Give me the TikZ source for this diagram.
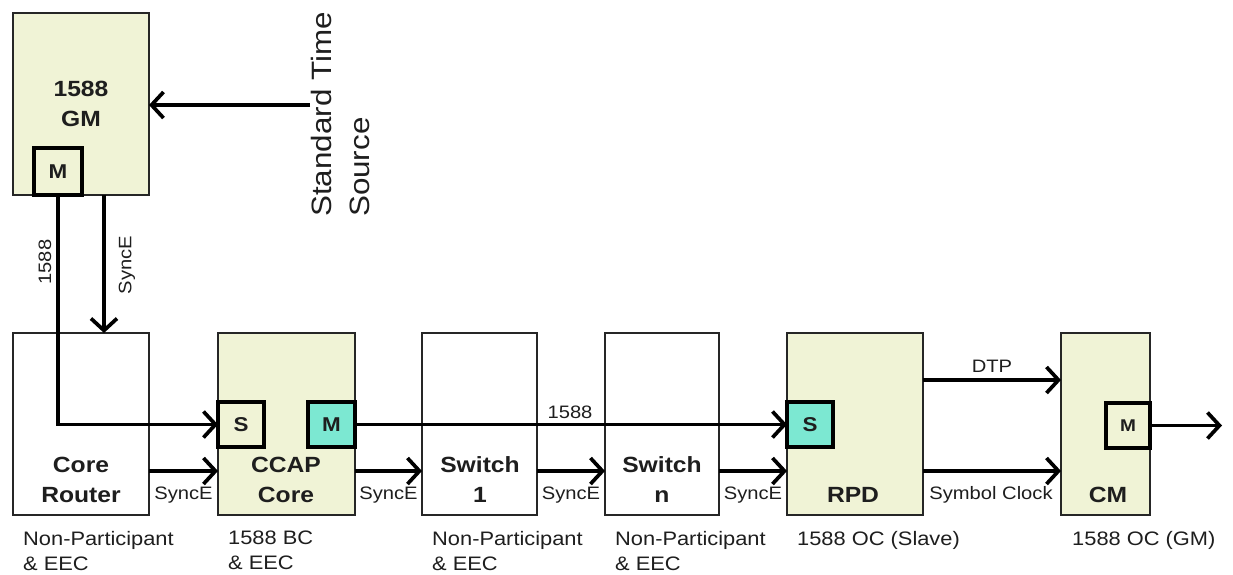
\documentclass[tikz,border=0pt]{standalone}
\usepackage{fontspec}
\setmainfont[FakeStretch=1.12]{Liberation Sans}
\usetikzlibrary{arrows.meta}
\definecolor{ylw}{RGB}{240,243,214}
\definecolor{tealb}{RGB}{124,232,210}
\definecolor{txt}{RGB}{30,30,30}
\tikzset{
  bigbox/.style={draw=black!85, line width=1.9pt, anchor=north west, inner sep=0pt, outer sep=0pt},
  smallbox/.style={draw=black, line width=4pt, anchor=north west, inner sep=0pt, outer sep=0pt,
    text=txt, font=\fontsize{20}{24}\selectfont\bfseries},
  blbl/.style={text=txt, align=center, inner sep=0pt, font=\fontsize{22}{30}\selectfont\bfseries},
  lbl/.style={text=txt, inner sep=0pt, font=\fontsize{18}{22}\selectfont},
  captxt/.style={text=txt, align=left, anchor=north west, inner sep=0pt, font=\fontsize{19.5}{25}\selectfont},
  arr/.style={line width=3.7pt, -{Straight Barb[length=12pt,width=26pt,line width=3.7pt]}}
}
\begin{document}
\begin{tikzpicture}[x=1pt,y=-1pt]
\useasboundingbox[fill=white] (0,0) rectangle (1233,574);
% big boxes
\node[bigbox, fill=ylw, minimum width=136pt, minimum height=182pt] (GM) at (13,13) {};
\node[bigbox, fill=white, minimum width=136pt, minimum height=182pt] (CR) at (13,333) {};
\node[bigbox, fill=ylw, minimum width=137pt, minimum height=182pt] (CCAP) at (218,333) {};
\node[bigbox, fill=white, minimum width=115pt, minimum height=182pt] (SW1) at (422,333) {};
\node[bigbox, fill=white, minimum width=114pt, minimum height=182pt] (SWn) at (605,333) {};
\node[bigbox, fill=ylw, minimum width=136pt, minimum height=182pt] (RPD) at (787,333) {};
\node[bigbox, fill=ylw, minimum width=89pt, minimum height=182pt] (CM) at (1061,333) {};
% box labels
\node[blbl] (gmlbl) at (81,104) {1588\\GM};
\node[blbl] (crlbl) at (81,480) {Core\\Router};
\node[blbl] (cclbl) at (286,480) {CCAP\\Core};
\node[blbl] (s1lbl) at (480,480) {Switch\\1};
\node[blbl] (snlbl) at (662,480) {Switch\\n};
\node[blbl] (rpdlbl) at (853,495) {RPD};
\node[blbl] (cmlbl) at (1108,495) {CM};
% standard time source
\node[text=txt, rotate=90, anchor=north west, align=left, inner sep=0pt,
  font=\fontsize{28}{38}\selectfont] (sts) at (311,217) {Standard Time\\Source};
\coordinate (stsin) at (310,105);
\coordinate (syncx) at (104,300);
\coordinate (ysync) at (0,471);
\coordinate (ydtp) at (0,380);
\coordinate (out) at (1222,425.5);
% small boxes
\node[smallbox, fill=ylw, minimum width=48pt, minimum height=47pt] (gmM) at (34,148) {M};
\node[smallbox, fill=ylw, minimum width=46pt, minimum height=45pt] (ccS) at (218,402) {S};
\node[smallbox, fill=tealb, minimum width=47pt, minimum height=45pt] (ccM) at (308,402) {M};
\node[smallbox, fill=tealb, minimum width=46pt, minimum height=45pt] (rpS) at (787,402) {S};
\node[smallbox, fill=ylw, minimum width=44pt, minimum height=45pt, font=\fontsize{17}{20}\selectfont\bfseries] (cmM) at (1106,403) {M};
% connectors
\draw[arr] (stsin) -- (stsin -| GM.east);
\draw[arr] (gmM.south) |- (ccS.west);
\draw[arr] (syncx |- GM.south) -- (syncx |- CR.north);
\draw[arr] (ccM.east) -- (rpS.west);
\draw[arr] (CR.east |- ysync) -- (CCAP.west |- ysync);
\draw[arr] (CCAP.east |- ysync) -- (SW1.west |- ysync);
\draw[arr] (SW1.east |- ysync) -- (SWn.west |- ysync);
\draw[arr] (SWn.east |- ysync) -- (RPD.west |- ysync);
\draw[arr] (RPD.east |- ysync) -- (CM.west |- ysync);
\draw[arr] (RPD.east |- ydtp) -- (CM.west |- ydtp);
\draw[arr] (cmM.east) -- (out);
% connector labels
\node[lbl, rotate=90] (l1588v) at (45,262) {1588};
\node[lbl, rotate=90] (lsyncv) at (127,265) {SyncE};
\node[lbl] (l1588h) at (570,412) {1588};
\node[lbl] (ls1) at (183.5,495) {SyncE};
\node[lbl] (ls2) at (388.5,495) {SyncE};
\node[lbl] (ls3) at (571,495) {SyncE};
\node[lbl] (ls4) at (753,495) {SyncE};
\node[lbl] (lsym) at (991,495) {Symbol Clock};
\node[lbl] (ldtp) at (992,366) {DTP};
% captions
\node[captxt] (c1) at (23,531) {Non-Participant\\\& EEC};
\node[captxt] (c2) at (228,531) {1588 BC\\\& EEC};
\node[captxt] (c3) at (432,531) {Non-Participant\\\& EEC};
\node[captxt] (c4) at (615,531) {Non-Participant\\\& EEC};
\node[captxt] (c5) at (797,531) {1588 OC (Slave)};
\node[captxt] (c6) at (1072,531) {1588 OC (GM)};
\end{tikzpicture}
\end{document}
